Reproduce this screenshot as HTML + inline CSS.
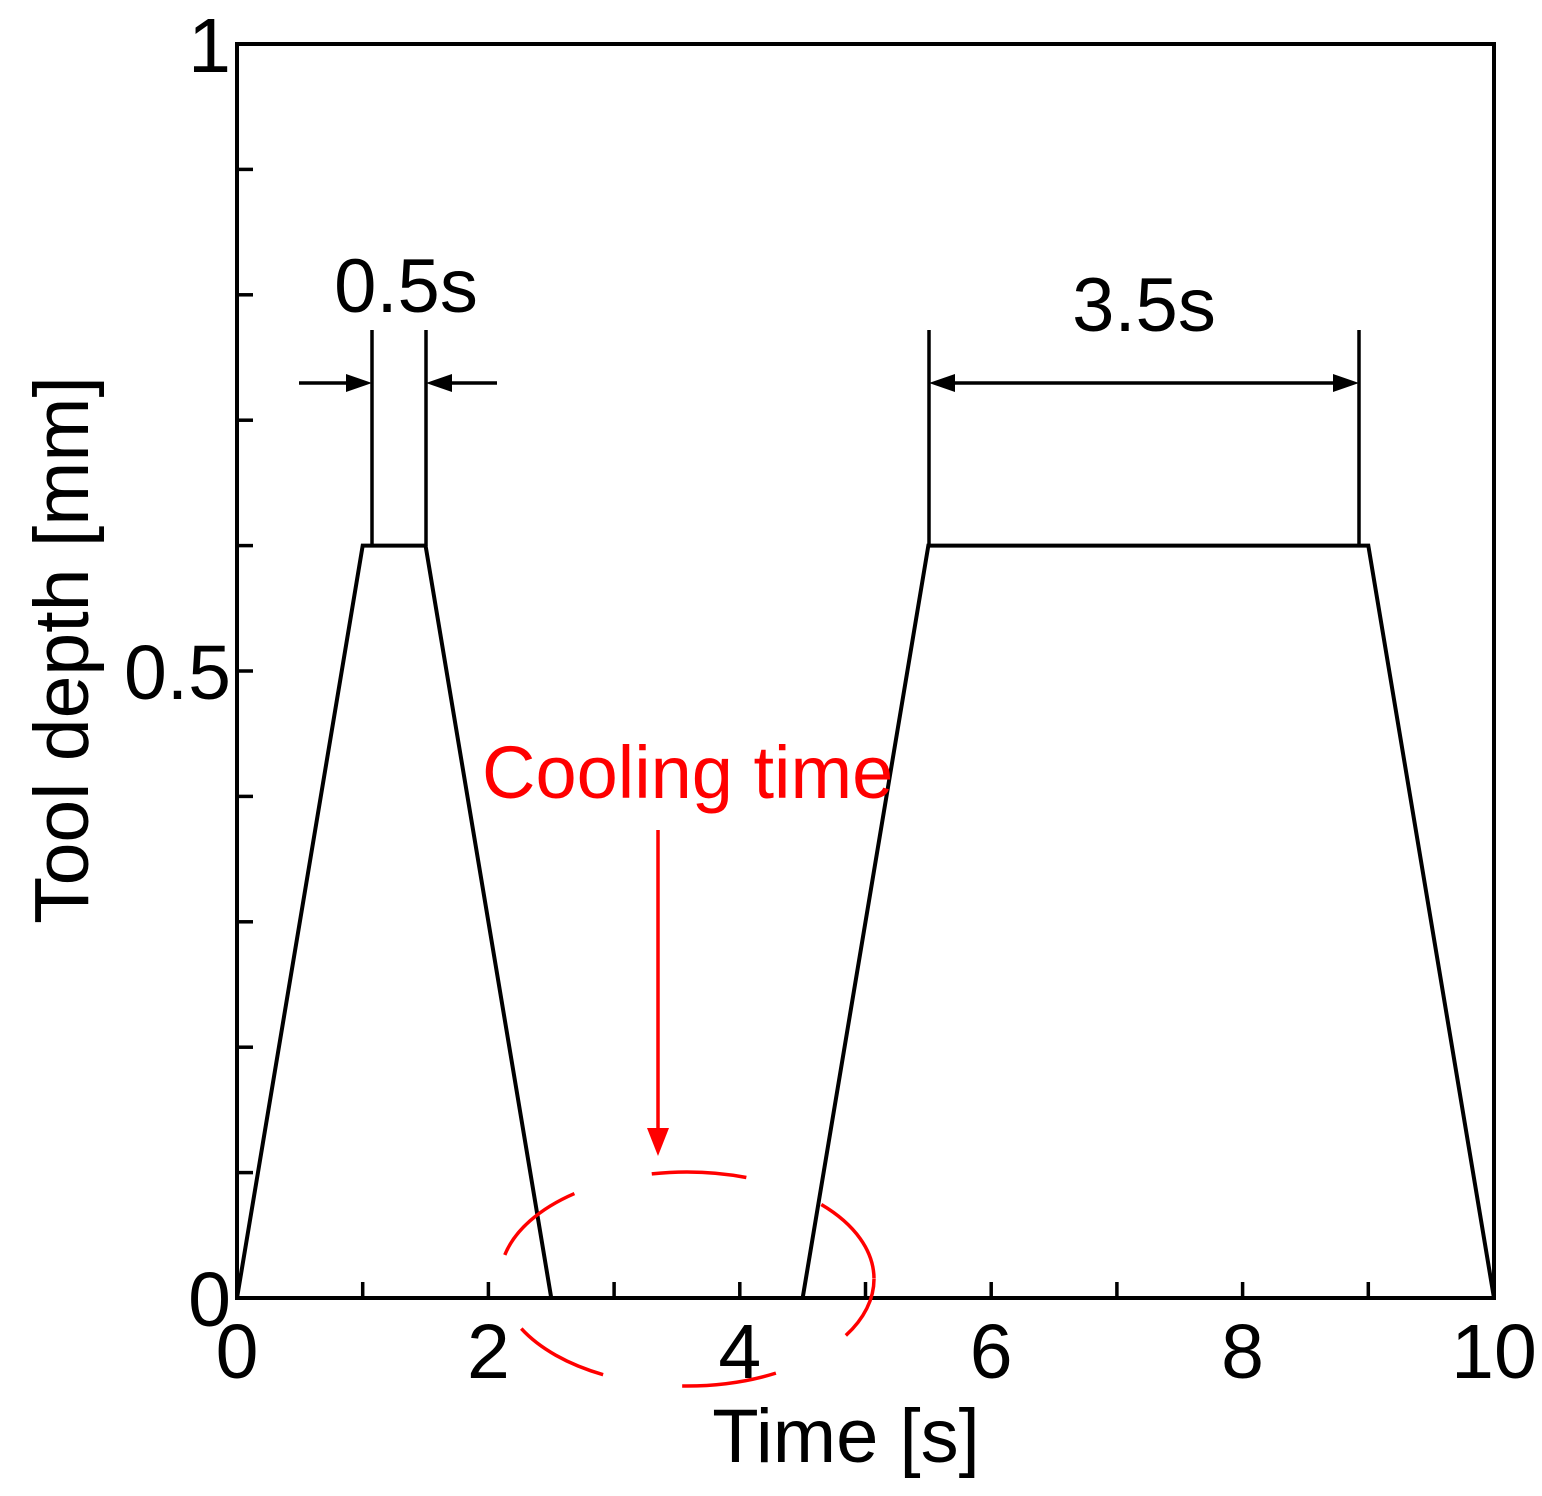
<!DOCTYPE html>
<html><head><meta charset="utf-8"><style>
html,body{margin:0;padding:0;background:#fff;}
svg text{font-family:"Liberation Sans",Arial,sans-serif;}
</style></head><body>
<svg id="chart" width="1542" height="1491" viewBox="0 0 1542 1491" xmlns="http://www.w3.org/2000/svg">
<g id="ticks"></g>
<g id="labels"></g>
<polyline id="series" fill="none" stroke="#000" stroke-width="4"/>
<rect x="237" y="44" width="1257" height="1254" fill="none" stroke="#000" stroke-width="4"/>
<g stroke="#000" stroke-width="3.5">
<line x1="372" y1="330" x2="372" y2="546"/>
<line x1="426" y1="330" x2="426" y2="546"/>
<line x1="299" y1="383" x2="352" y2="383"/>
<polygon points="372,383 346,374 346,392" fill="#000" stroke="none"/>
<line x1="497" y1="383" x2="446" y2="383"/>
<polygon points="426,383 452,374 452,392" fill="#000" stroke="none"/>
</g>
<text x="406" y="312" font-size="76" text-anchor="middle">0.5s</text>
<g stroke="#000" stroke-width="3.5">
<line x1="929" y1="330" x2="929" y2="546"/>
<line x1="1359" y1="330" x2="1359" y2="546"/>
<line x1="950" y1="383" x2="1338" y2="383"/>
<polygon points="929,383 955,374 955,392" fill="#000" stroke="none"/>
<polygon points="1359,383 1333,374 1333,392" fill="#000" stroke="none"/>
</g>
<text x="1144" y="331" font-size="76" text-anchor="middle">3.5s</text>
<text x="482" y="798" font-size="74" fill="#f00">Cooling time</text>
<line x1="658" y1="830" x2="658" y2="1132" stroke="#f00" stroke-width="3.5"/>
<polygon points="658,1156 647,1128 669,1128" fill="#f00"/>
<ellipse cx="687" cy="1279" rx="187" ry="107" fill="none" stroke="#f00" stroke-width="3.5" stroke-dasharray="95 80" stroke-dashoffset="30"/>
<text x="846" y="1462" font-size="76" text-anchor="middle">Time [s]</text>
<text transform="translate(88,650) rotate(-90)" font-size="77" text-anchor="middle">Tool depth [mm]</text>
</svg>
<script>
const seriesTimes = [0, 1, 1.5, 2.5, 4.5, 5.5, 9, 10];
const seriesDepth = [0, 0.6, 0.6, 0, 0, 0.6, 0.6, 0];
const xTickLabels = ["0", "2", "4", "6", "8", "10"];
const xTickValues = [0, 2, 4, 6, 8, 10];
const yTickLabels = ["0", "0.5", "1"];
const yTickValues = [0, 0.5, 1];
const xMin = 0, xMax = 10, yMin = 0, yMax = 1;
const L = 237, R = 1494, T = 44, B = 1298;
const NS = "http://www.w3.org/2000/svg";
function xs(v){ return L + (v - xMin) / (xMax - xMin) * (R - L); }
function ys(v){ return B - (v - yMin) / (yMax - yMin) * (B - T); }
document.getElementById('series').setAttribute('points', seriesTimes.map((t,i)=>xs(t)+','+ys(seriesDepth[i])).join(' '));
const tg = document.getElementById('ticks');
const lg = document.getElementById('labels');
for (let i = 1; i < 10; i++) {
  const l = document.createElementNS(NS, 'line');
  
  
  l.setAttribute('x1', xs(i)); l.setAttribute('x2', xs(i));
  l.setAttribute('y1', B); l.setAttribute('y2', B - 16);
  l.setAttribute('stroke', '#000'); l.setAttribute('stroke-width', '3.5');
  tg.appendChild(l);
}
for (let i = 1; i < 10; i++) {
  const l = document.createElementNS(NS, 'line');
  
  
  l.setAttribute('x1', L); l.setAttribute('x2', L + 16);
  l.setAttribute('y1', ys(i/10)); l.setAttribute('y2', ys(i/10));
  l.setAttribute('stroke', '#000'); l.setAttribute('stroke-width', '3.5');
  tg.appendChild(l);
}
xTickValues.forEach((v,i)=>{
  const t = document.createElementNS(NS, 'text');
  
  
  t.setAttribute('x', xs(v)); t.setAttribute('y', B + 80);
  t.setAttribute('font-size', '77'); t.setAttribute('text-anchor', 'middle');
  t.textContent = xTickLabels[i];
  lg.appendChild(t);
});
yTickValues.forEach((v,i)=>{
  const t = document.createElementNS(NS, 'text');
  
  
  t.setAttribute('x', L - 6); t.setAttribute('y', ys(v) + 28);
  t.setAttribute('font-size', '77'); t.setAttribute('text-anchor', 'end');
  t.textContent = yTickLabels[i];
  lg.appendChild(t);
});
</script>
</body></html>
